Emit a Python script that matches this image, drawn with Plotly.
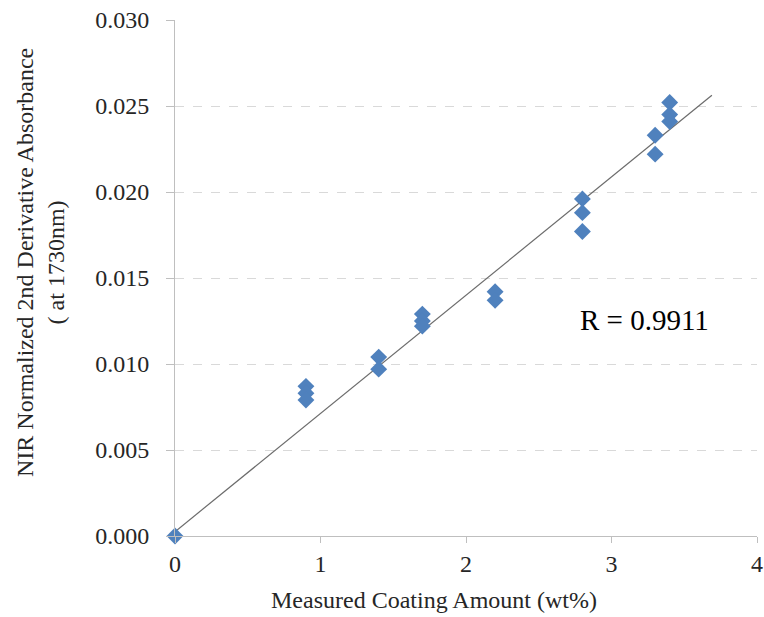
import plotly.graph_objects as go

# Measured coating amount (wt%) and NIR 2nd-derivative absorbance at 1730 nm
coating_wt = [0.0,
              0.9, 0.9, 0.9,
              1.4, 1.4,
              1.7, 1.7, 1.7,
              2.2, 2.2,
              2.8, 2.8, 2.8,
              3.3, 3.3,
              3.4, 3.4, 3.4]
absorbance = [0.0000,
              0.0087, 0.0083, 0.0079,
              0.0104, 0.0097,
              0.0129, 0.0125, 0.0122,
              0.0142, 0.0137,
              0.0196, 0.0188, 0.0177,
              0.0233, 0.0222,
              0.0252, 0.0245, 0.0241]

# Linear trend line coefficients and extent
trend_intercept = 0.00025
trend_slope = 0.006876
trend_x = [0.0, 3.69]
trend_y = [trend_intercept + trend_slope * x for x in trend_x]

x_ticks = [0, 1, 2, 3, 4]
y_ticks = [0.000, 0.005, 0.010, 0.015, 0.020, 0.025, 0.030]
r_label = "R = 0.9911"

serif = "Liberation Serif, Times New Roman, serif"
text_col = "#262626"
fs = 24

L, R, T, B = 175, 7, 20, 81
W, H = 764, 617
plot_w = W - L - R
plot_h = H - T - B

fig = go.Figure()
fig.add_trace(go.Scatter(
    x=trend_x, y=trend_y, mode="lines",
    line=dict(color="#6b6b6b", width=1.2),
    hoverinfo="skip", showlegend=False,
))
fig.add_trace(go.Scatter(
    x=coating_wt, y=absorbance, mode="markers",
    marker=dict(symbol="diamond", size=13, color="#4F81BD",
                line=dict(width=0)),
    cliponaxis=False, showlegend=False,
))

fig.update_layout(
    width=W, height=H,
    margin=dict(l=L, r=R, t=T, b=B, autoexpand=False),
    paper_bgcolor="white", plot_bgcolor="white",
    font=dict(family=serif, color=text_col, size=fs),
    xaxis=dict(
        range=[0, 4], tickvals=x_ticks, ticktext=[str(v) for v in x_ticks],
        showgrid=False, zeroline=False, automargin=False,
        showline=True, linecolor="#bfbfbf", linewidth=1,
        ticks="outside", ticklen=6, tickcolor="#bfbfbf",
        tickfont=dict(family=serif, size=fs, color=text_col),
    ),
    yaxis=dict(
        range=[0, 0.030], tickvals=y_ticks,
        ticktext=[f"{v:.3f}" for v in y_ticks],
        showgrid=True, gridcolor="#d9d9d9", griddash="dash", gridwidth=1,
        zeroline=False, automargin=False,
        showline=True, linecolor="#bfbfbf", linewidth=1,
        ticks="outside", ticklen=8, tickcolor="#bfbfbf",
        ticklabelstandoff=12,
        tickfont=dict(family=serif, size=fs, color=text_col),
    ),
    annotations=[
        dict(text=r_label, x=(644 - L) / plot_w, y=(536 - 320) / plot_h,
             xref="paper", yref="paper", xanchor="center", yanchor="middle",
             showarrow=False,
             font=dict(family=serif, size=29, color="#000000")),
        dict(text="Measured Coating Amount (wt%)",
             x=(434 - L) / plot_w, y=-(600 - 536) / plot_h,
             xref="paper", yref="paper", xanchor="center", yanchor="middle",
             showarrow=False,
             font=dict(family=serif, size=fs, color=text_col)),
        dict(text="NIR Normalized 2nd Derivative Absorbance<br>( at 1730nm)",
             x=-(L - 40) / plot_w, y=(536 - 263) / plot_h,
             xref="paper", yref="paper", xanchor="center", yanchor="middle",
             textangle=-90, showarrow=False,
             font=dict(family=serif, size=fs, color=text_col)),
    ],
)

fig.write_html("out.html")
